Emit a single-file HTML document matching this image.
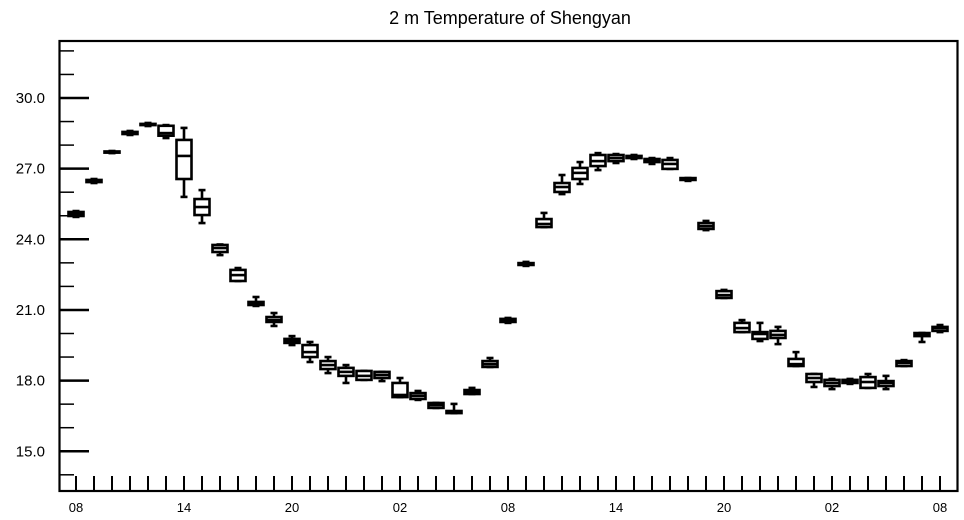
<!DOCTYPE html>
<html><head><meta charset="utf-8"><style>
body{margin:0;background:#fff;}
svg{display:block;font-family:"Liberation Sans",sans-serif;}
</style></head><body>
<svg id="c" width="964" height="520">
<text x="510" y="24" text-anchor="middle" font-size="18">2 m Temperature of Shengyan</text>
<g id="axes"></g><g id="boxes"></g>
<rect x="59.5" y="41" width="898" height="450" fill="none" stroke="#000" stroke-width="2.2"/>
</svg>
<script>
const wMin=[24.95,26.39,27.66,28.43,28.81,28.30,25.80,24.69,23.33,22.23,21.17,20.32,19.51,18.79,18.32,17.90,18.03,17.98,17.30,17.18,16.84,16.62,17.43,18.58,20.45,22.87,24.52,25.92,26.35,26.94,27.24,27.41,27.20,26.99,26.48,24.39,21.51,20.06,19.68,19.55,18.62,17.73,17.64,17.86,17.69,17.64,18.62,19.64,20.06];
const q1=[24.99,26.43,27.68,28.47,28.85,28.40,26.56,25.03,23.46,22.23,21.21,20.49,19.60,19.00,18.49,18.20,18.03,18.11,17.30,17.22,16.84,16.62,17.43,18.58,20.49,22.91,24.52,26.01,26.56,27.11,27.32,27.45,27.28,26.99,26.52,24.44,21.51,20.06,19.77,19.81,18.62,17.94,17.77,17.90,17.69,17.77,18.62,19.89,20.11];
const med=[25.07,26.48,27.71,28.51,28.87,28.51,27.54,25.37,23.63,22.48,21.25,20.57,19.68,19.21,18.66,18.37,18.20,18.24,17.39,17.35,16.96,16.67,17.52,18.70,20.57,22.95,24.65,26.22,26.82,27.32,27.45,27.49,27.37,27.20,26.56,24.56,21.63,20.23,19.98,19.94,18.70,18.11,17.90,17.98,17.94,17.90,18.75,19.98,20.23];
const q3=[25.16,26.52,27.73,28.56,28.90,28.82,28.22,25.71,23.76,22.70,21.34,20.70,19.77,19.51,18.83,18.54,18.41,18.37,17.90,17.47,17.05,16.71,17.60,18.83,20.62,22.99,24.86,26.39,27.03,27.58,27.58,27.54,27.41,27.37,26.60,24.69,21.80,20.45,20.06,20.11,18.92,18.28,18.03,18.03,18.15,17.98,18.83,20.02,20.28];
const wMax=[25.20,26.56,27.75,28.60,28.94,28.85,28.73,26.09,23.78,22.78,21.55,20.87,19.89,19.64,19.00,18.66,18.41,18.37,18.11,17.56,17.05,17.01,17.69,18.96,20.66,23.04,25.12,26.73,27.28,27.66,27.62,27.58,27.45,27.45,26.60,24.78,21.85,20.57,20.45,20.28,19.21,18.28,18.07,18.07,18.28,18.20,18.87,20.02,20.36];
const yTicks=[15,18,21,24,27,30];
const xLabels=["08","14","20","02","08","14","20","02","08"];
const NS="http://www.w3.org/2000/svg";
const yS=v=>98+(30-v)*23.55;
const xS=i=>76+18*i;
function mk(t,a,p){const e=document.createElementNS(NS,t);for(const k in a)e.setAttribute(k,a[k]);p.appendChild(e);return e;}
const ax=document.getElementById('axes'),bx=document.getElementById('boxes');
for(let v=14;v<=32;v++){const major=yTicks.includes(v);const y=yS(v);
 const l=mk('line',{x1:59,x2:major?89:74,y1:y,y2:y,stroke:'#000','stroke-width':major?2.5:1.5},ax);
 
 
 if(major){const t=mk('text',{x:45,y:y+5,'text-anchor':'end','font-size':15},ax);t.textContent=v.toFixed(1);
  
  }}
for(let i=0;i<49;i++){const x=xS(i);
 const l=mk('line',{x1:x,x2:x,y1:476,y2:491,stroke:'#000','stroke-width':2},ax);
 
 
 if(i%6===0){const t=mk('text',{x:x,y:512,'text-anchor':'middle','font-size':13},ax);t.textContent=xLabels[i/6];
  
  }}
for(let i=0;i<med.length;i++){const x=xS(i);
 const g=mk('g',{stroke:'#000','stroke-width':2.6,fill:'none'},bx);
 
 
 mk('line',{x1:x,x2:x,y1:yS(wMax[i]),y2:yS(q3[i])},g);
 mk('line',{x1:x,x2:x,y1:yS(q1[i]),y2:yS(wMin[i])},g);
 mk('line',{x1:x-3.5,x2:x+3.5,y1:yS(wMax[i]),y2:yS(wMax[i])},g);
 mk('line',{x1:x-3.5,x2:x+3.5,y1:yS(wMin[i]),y2:yS(wMin[i])},g);
 const top=yS(q3[i]),bot=yS(q1[i]);
 mk('rect',{x:x-7.5,y:top,width:15,height:Math.max(bot-top,0.5),fill:'#fff'},g);
 mk('line',{x1:x-7.5,x2:x+7.5,y1:yS(med[i]),y2:yS(med[i])},g);}
</script>
</body></html>
